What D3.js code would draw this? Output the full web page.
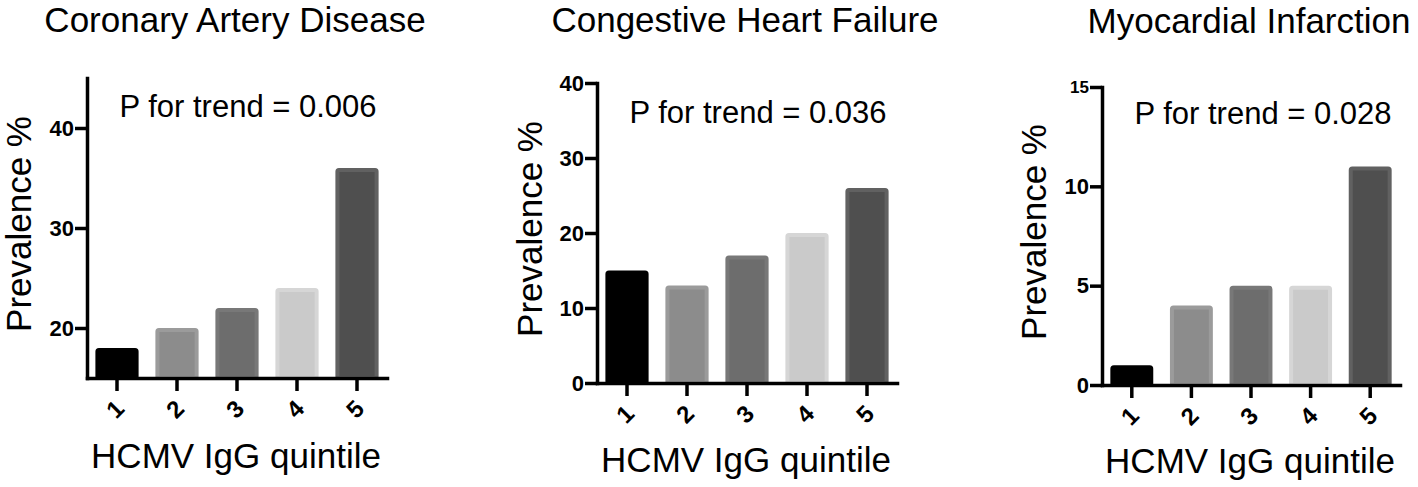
<!DOCTYPE html>
<html>
<head>
<meta charset="utf-8">
<script src="https://cdn.jsdelivr.net/npm/d3@7"></script>
<style>
	body { margin: 0; background: #fff; }
	svg { display: block; font-family: "Liberation Sans", Arial, sans-serif; }
</style>
</head>
<body>
<div id="chart"></div>
<script>
// Data
const quintiles = ["1", "2", "3", "4", "5"];
const titles = ["Coronary Artery Disease", "Congestive Heart Failure", "Myocardial Infarction"];
const cadValues = [18, 20, 22, 24, 36];
const chfValues = [15, 13, 17, 20, 26];
const miValues = [1, 4, 5, 5, 11];
const pTrend = ["0.006", "0.036", "0.028"];
const cadTicks = [20, 30, 40];
const chfTicks = [0, 10, 20, 30, 40];
const miTicks = [0, 5, 10, 15];
const cadDomain = [15, 45];
const chfDomain = [0, 40];
const miDomain = [0, 15];

// Bar colours (fill, edge) per quintile
const barFill = ["#000000", "#8c8c8c", "#6d6d6d", "#cacaca", "#4f4f4f"];
const barEdge = ["#000000", "#9b9b9b", "#787878", "#d6d6d6", "#616161"];

// Panel layout in pixels
const panels = [
	{ values: cadValues, ticks: cadTicks, domain: cadDomain, left: 87, right: 387, top: 78, bottom: 378, pY: 117, titleY: 32, xLabelY: 468, yLabelX: 31 },
	{ values: chfValues, ticks: chfTicks, domain: chfDomain, left: 597, right: 897, top: 83, bottom: 383, pY: 123, titleY: 32, xLabelY: 472, yLabelX: 542 },
	{ values: miValues, ticks: miTicks, domain: miDomain, left: 1102, right: 1400, top: 87, bottom: 385, pY: 124, titleY: 33, xLabelY: 473, yLabelX: 1046 },
];

const svg = d3
	.select("#chart")
	.append("svg")
	.attr("width", 1418)
	.attr("height", 487);

panels.forEach((p, i) => {
	const g = svg.append("g");

	const x = d3
		.scaleBand()
		.domain(quintiles)
		.range([p.left, p.right])
		.paddingInner(0.28)
		.paddingOuter(0.14);
	const y = d3.scaleLinear().domain(p.domain).range([p.bottom, p.top]);

	// Bars
	g.selectAll(".bar")
		.data(p.values)
		.enter()
		.append("rect")
		.attr("class", "bar")
		.attr("x", (d, j) => x(quintiles[j]) + 2)
		.attr("y", (d) => y(d) + 2)
		.attr("width", x.bandwidth() - 4)
		.attr("height", (d) => y(p.domain[0]) - y(d) - 2)
		.attr("rx", 1.5)
		.attr("fill", (d, j) => barFill[j])
		.attr("stroke", (d, j) => barEdge[j])
		.attr("stroke-width", 4);

	// Y axis
	const yAxis = g
		.append("g")
		.attr("transform", "translate(" + p.left + ",0)")
		.call(d3.axisLeft(y).tickValues(p.ticks).tickSize(12).tickSizeOuter(0).tickPadding(1));
	yAxis.select(".domain").attr("stroke-width", 3.5).attr("stroke-linecap", "square");
	yAxis.selectAll(".tick line").attr("stroke-width", 3.5);
	yAxis
		.selectAll(".tick text")
		.style("font-size", (d) => (i === 2 && d === 15 ? "17px" : "22px"))
		.style("font-weight", "bold")
		.attr("fill", "#000");

	// X axis
	const xAxis = g
		.append("g")
		.attr("transform", "translate(0," + p.bottom + ")")
		.call(d3.axisBottom(x).tickSize(13).tickSizeOuter(0));
	xAxis.select(".domain").attr("stroke-width", 3.5).attr("stroke-linecap", "square");
	xAxis.selectAll(".tick line").attr("stroke-width", 3.5);
	xAxis
		.selectAll(".tick text")
		.attr("y", 0)
		.attr("dy", "0.35em")
		.attr("transform", "translate(-2,31) rotate(-45)")
		.style("text-anchor", "middle")
		.style("font-size", "24px")
		.style("font-weight", "bold")
		.attr("fill", "#000");

	const cx = (p.left + p.right) / 2;

	// Title
	g.append("text")
		.attr("x", cx - 2)
		.attr("y", p.titleY)
		.style("text-anchor", "middle")
		.style("font-size", "35px")
		.text(titles[i]);

	// P for trend
	g.append("text")
		.attr("x", p.left + 161)
		.attr("y", p.pY)
		.style("text-anchor", "middle")
		.style("font-size", "31px")
		.text("P for trend = " + pTrend[i]);

	// Axis labels
	g.append("text")
		.attr("x", cx - 1)
		.attr("y", p.xLabelY)
		.style("text-anchor", "middle")
		.style("font-size", "35px")
		.text("HCMV IgG quintile");

	g.append("text")
		.attr("transform", "translate(" + p.yLabelX + "," + ((p.top + p.bottom) / 2 - 4) + ") rotate(-90)")
		.style("text-anchor", "middle")
		.style("font-size", "35px")
		.text("Prevalence %");
});
</script>
</body>
</html>
